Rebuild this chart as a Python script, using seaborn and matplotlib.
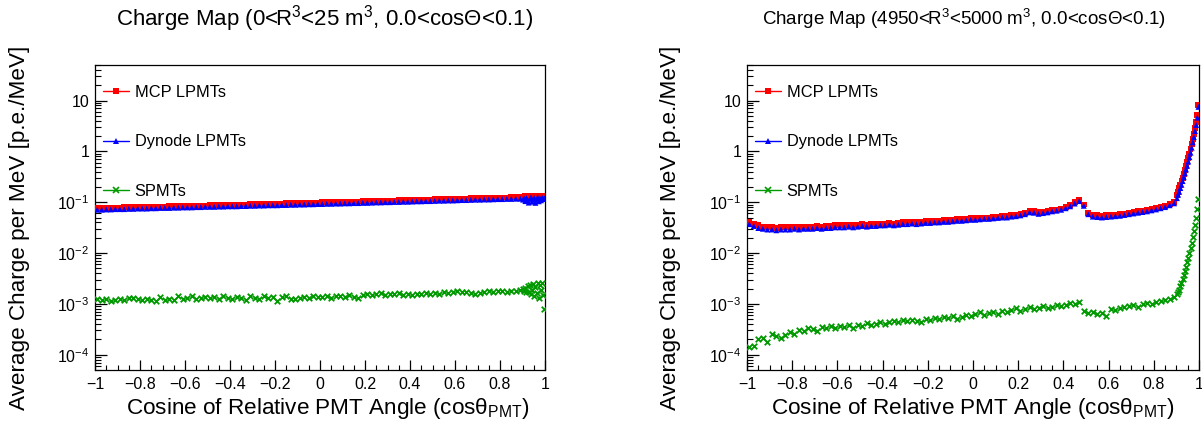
import numpy as np
import pandas as pd
import matplotlib
matplotlib.use("Agg")
import matplotlib.pyplot as plt
import seaborn as sns
from matplotlib.lines import Line2D
from matplotlib.ticker import MultipleLocator, FixedLocator, FuncFormatter, NullFormatter

sns.set_style("ticks")
plt.rcParams['font.family'] = ['Liberation Sans', 'DejaVu Sans']
plt.rcParams['mathtext.fontset'] = 'custom'
plt.rcParams['mathtext.rm'] = 'Liberation Sans'
plt.rcParams['mathtext.it'] = 'Liberation Sans:italic'
plt.rcParams['mathtext.default'] = 'regular'
for key in ['text.color', 'axes.labelcolor', 'xtick.color', 'ytick.color', 'axes.edgecolor']:
    plt.rcParams[key] = 'black'

# bin centres: 0.02 wide bins up to 0.9, then 0.005 wide bins up to 1
cos_coarse = np.round(np.arange(-0.99, 0.90, 0.02), 4)
cos_fine = np.round(np.arange(0.9025, 1.0, 0.005), 4)
cos_bins = np.concatenate([cos_coarse, cos_fine])

# ---- left panel: 0<R^3<25 m^3 ----
mcp_left = [
    0.076, 0.077, 0.077, 0.078, 0.078, 0.078, 0.079, 0.079, 0.080, 0.080,
    0.080, 0.081, 0.081, 0.082, 0.082, 0.082, 0.083, 0.083, 0.084, 0.084,
    0.085, 0.085, 0.085, 0.086, 0.086, 0.087, 0.087, 0.088, 0.088, 0.088,
    0.089, 0.089, 0.090, 0.090, 0.091, 0.091, 0.092, 0.092, 0.093, 0.093,
    0.094, 0.094, 0.095, 0.095, 0.096, 0.096, 0.097, 0.097, 0.098, 0.098,
    0.099, 0.099, 0.100, 0.100, 0.101, 0.102, 0.102, 0.103, 0.103, 0.104,
    0.104, 0.105, 0.106, 0.106, 0.107, 0.107, 0.108, 0.109, 0.109, 0.110,
    0.110, 0.111, 0.112, 0.112, 0.113, 0.114, 0.114, 0.115, 0.116, 0.116,
    0.117, 0.118, 0.118, 0.119, 0.120, 0.120, 0.121, 0.122, 0.122, 0.123,
    0.124, 0.124, 0.125, 0.126, 0.126,
    0.127, 0.128, 0.130, 0.131, 0.129, 0.133, 0.132, 0.130, 0.134, 0.131,
    0.129, 0.133, 0.132, 0.130, 0.134, 0.131, 0.133, 0.135, 0.132, 0.134]
dynode_left = [
    0.071, 0.071, 0.072, 0.072, 0.073, 0.073, 0.073, 0.074, 0.074, 0.075,
    0.075, 0.075, 0.076, 0.076, 0.077, 0.077, 0.077, 0.078, 0.078, 0.079,
    0.079, 0.079, 0.080, 0.080, 0.081, 0.081, 0.081, 0.082, 0.082, 0.083,
    0.083, 0.083, 0.084, 0.084, 0.085, 0.085, 0.086, 0.086, 0.087, 0.087,
    0.087, 0.088, 0.088, 0.089, 0.089, 0.090, 0.090, 0.091, 0.091, 0.092,
    0.092, 0.093, 0.093, 0.094, 0.094, 0.095, 0.095, 0.096, 0.096, 0.097,
    0.097, 0.098, 0.099, 0.099, 0.100, 0.100, 0.101, 0.101, 0.102, 0.102,
    0.103, 0.104, 0.104, 0.105, 0.105, 0.106, 0.107, 0.107, 0.108, 0.108,
    0.109, 0.110, 0.110, 0.111, 0.112, 0.112, 0.113, 0.113, 0.114, 0.115,
    0.115, 0.116, 0.116, 0.117, 0.117,
    0.112, 0.118, 0.105, 0.121, 0.110, 0.098, 0.116, 0.124, 0.102, 0.113,
    0.120, 0.097, 0.111, 0.125, 0.104, 0.118, 0.109, 0.122, 0.115, 0.119]
# SPMTs, in units of 1e-3
spmt_left_e3 = [
    1.22, 1.18, 1.24, 1.15, 1.21, 1.26, 1.20, 1.29, 1.33, 1.27,
    1.19, 1.23, 1.17, 1.12, 1.35, 1.20, 1.26, 1.18, 1.40, 1.24,
    1.31, 1.45, 1.27, 1.33, 1.38, 1.30, 1.36, 1.22, 1.41, 1.28,
    1.24, 1.37, 1.30, 1.21, 1.40, 1.32, 1.25, 1.43, 1.28, 1.35,
    1.13, 1.39, 1.42, 1.26, 1.24, 1.33, 1.37, 1.29, 1.41, 1.35,
    1.38, 1.46, 1.33, 1.40, 1.44, 1.36, 1.48, 1.39, 1.32, 1.52,
    1.58, 1.49, 1.55, 1.62, 1.47, 1.53, 1.56, 1.60, 1.52, 1.55,
    1.50, 1.57, 1.54, 1.62, 1.59, 1.65, 1.58, 1.70, 1.63, 1.74,
    1.76, 1.72, 1.68, 1.63, 1.58, 1.66, 1.73, 1.81, 1.70, 1.77,
    1.79, 1.74, 1.83, 1.78, 1.86,
    1.95, 1.82, 2.05, 1.68, 2.20, 1.74, 2.35, 1.55, 1.90, 2.48,
    1.40, 2.15, 1.62, 2.55, 1.33, 2.30, 1.85, 2.60, 1.48, 0.80]

# ---- right panel: 4950<R^3<5000 m^3 ----
mcp_right = [
    0.041, 0.038, 0.035, 0.033, 0.032, 0.032, 0.031, 0.032, 0.032, 0.032,
    0.033, 0.032, 0.033, 0.033, 0.033, 0.034, 0.033, 0.034, 0.034, 0.035,
    0.035, 0.035, 0.036, 0.035, 0.036, 0.037, 0.036, 0.037, 0.037, 0.038,
    0.038, 0.039, 0.038, 0.039, 0.040, 0.040, 0.041, 0.040, 0.041, 0.042,
    0.042, 0.043, 0.043, 0.044, 0.044, 0.045, 0.046, 0.046, 0.047, 0.048,
    0.048, 0.049, 0.050, 0.050, 0.051, 0.052, 0.053, 0.053, 0.055, 0.056,
    0.058, 0.062, 0.068, 0.066, 0.063, 0.065, 0.067, 0.070, 0.072, 0.075,
    0.080, 0.088, 0.100, 0.112, 0.090, 0.062, 0.056, 0.055, 0.054, 0.055,
    0.056, 0.057, 0.058, 0.060, 0.062, 0.064, 0.066, 0.068, 0.070, 0.073,
    0.076, 0.080, 0.085, 0.092, 0.100,
    0.14, 0.16, 0.19, 0.22, 0.26, 0.30, 0.36, 0.43, 0.51, 0.61,
    0.74, 0.90, 1.10, 1.40, 1.75, 2.2, 2.9, 3.8, 5.2, 8.2]
dynode_right = [
    0.037, 0.034, 0.031, 0.030, 0.029, 0.029, 0.028, 0.029, 0.029, 0.029,
    0.030, 0.029, 0.030, 0.030, 0.030, 0.031, 0.030, 0.031, 0.031, 0.032,
    0.032, 0.032, 0.033, 0.032, 0.033, 0.034, 0.033, 0.034, 0.034, 0.035,
    0.035, 0.036, 0.035, 0.036, 0.037, 0.037, 0.038, 0.037, 0.038, 0.039,
    0.039, 0.040, 0.040, 0.041, 0.041, 0.042, 0.043, 0.043, 0.044, 0.045,
    0.045, 0.046, 0.047, 0.047, 0.048, 0.049, 0.050, 0.050, 0.052, 0.053,
    0.055, 0.058, 0.063, 0.062, 0.059, 0.061, 0.063, 0.066, 0.068, 0.071,
    0.076, 0.083, 0.094, 0.105, 0.085, 0.058, 0.052, 0.051, 0.050, 0.051,
    0.052, 0.053, 0.054, 0.056, 0.058, 0.060, 0.062, 0.064, 0.066, 0.069,
    0.072, 0.076, 0.080, 0.087, 0.095,
    0.12, 0.14, 0.16, 0.19, 0.22, 0.26, 0.31, 0.37, 0.44, 0.52,
    0.63, 0.77, 0.94, 1.18, 1.50, 1.90, 2.5, 3.3, 4.6, 7.5]
# SPMTs, in units of 1e-4
spmt_right_e4 = [
    1.4, 1.5, 2.0, 2.1, 1.8, 2.6, 2.3, 2.1, 2.4, 2.8,
    2.6, 3.1, 2.9, 3.4, 3.2, 2.9, 3.5, 3.3, 3.6, 3.4,
    3.7, 3.5, 3.8, 3.4, 3.9, 3.6, 4.2, 3.8, 4.1, 4.3,
    4.0, 4.4, 4.6, 4.3, 4.8, 4.5, 4.9, 4.7, 4.4, 5.1,
    4.8, 5.3, 5.0, 5.5, 5.2, 5.7, 5.1, 5.6, 6.0, 5.8,
    6.3, 6.8, 6.1, 6.6, 7.0, 6.4, 7.3, 6.8, 7.6, 8.3,
    7.4, 8.0, 8.6, 7.8, 8.4, 9.1, 8.2, 8.8, 9.3, 8.9,
    9.6, 10.2, 9.8, 11.0, 7.2, 6.5, 6.8, 6.3, 6.7, 5.8,
    8.0, 7.6, 8.3, 8.7, 9.0, 9.6, 8.8, 10.1, 10.3, 10.0,
    10.8, 11.2, 11.9, 12.6, 13.8,
    15.5, 17, 19, 22, 26, 31, 37, 45, 54, 66,
    81, 100, 125, 160, 205, 270, 360, 500, 720, 1150]

titles = ["Charge Map (0<R$^{3}$<25 m$^{3}$, 0.0<cosΘ<0.1)",
          "Charge Map (4950<R$^{3}$<5000 m$^{3}$, 0.0<cosΘ<0.1)"]
series_names = ["MCP LPMTs", "Dynode LPMTs", "SPMTs"]
colors = ["#ff0000", "#0000ff", "#009900"]
markers = ["s", "^", "x"]

panels = [
    (mcp_left, dynode_left, np.array(spmt_left_e3) * 1e-3),
    (mcp_right, dynode_right, np.array(spmt_right_e4) * 1e-4),
]

fig = plt.figure(figsize=(12.02, 4.28), dpi=100)
W, H = 1202, 428
axes_px = [(95, 545), (747, 1199)]
title_size = [16, 13.5]
title_x = [325, 964]
xlabel_end = [530, 1175]

ytick_labels = {10.0: "10", 1.0: "1", 0.1: "$10^{-1}$", 0.01: "$10^{-2}$",
                0.001: "$10^{-3}$", 0.0001: "$10^{-4}$"}

for i, (x0, x1) in enumerate(axes_px):
    ax = fig.add_axes([x0 / W, (H - 370) / H, (x1 - x0) / W, 305 / H])
    df = pd.DataFrame({"cos": cos_bins, "MCP LPMTs": panels[i][0],
                       "Dynode LPMTs": panels[i][1], "SPMTs": panels[i][2]})
    for name, c, m in zip(series_names, colors, markers):
        if m == "x":
            sns.scatterplot(data=df, x="cos", y=name, ax=ax, marker=m, color=c,
                            s=16, linewidth=1.3, zorder=3)
        else:
            sns.scatterplot(data=df, x="cos", y=name, ax=ax, marker=m, color=c,
                            s=18, edgecolor="none", linewidth=0, zorder=3)
    ax.set_yscale("log")
    ax.set_xlim(-1, 1)
    ax.set_ylim(5e-5, 50)

    ax.xaxis.set_major_locator(MultipleLocator(0.2))
    ax.xaxis.set_minor_locator(MultipleLocator(0.05))
    ax.xaxis.set_major_formatter(FuncFormatter(
        lambda v, p: "0" if abs(v) < 1e-9 else ("%g" % round(v, 1)).replace("-", "\u2212")))
    ax.yaxis.set_major_locator(FixedLocator(list(ytick_labels.keys())))
    ax.yaxis.set_major_formatter(FuncFormatter(
        lambda v, p: ytick_labels.get(round(v, 6), "")))
    minors = [k * 10.0 ** e for e in range(-5, 2) for k in range(2, 10)]
    ax.yaxis.set_minor_locator(FixedLocator(minors))
    ax.yaxis.set_minor_formatter(NullFormatter())
    ax.tick_params(axis="x", which="major", direction="in", length=7, width=0.9,
                   labelsize=11.5, pad=5, top=False)
    ax.tick_params(axis="x", which="minor", direction="in", length=3.5, width=0.8, top=False)
    ax.tick_params(axis="y", which="major", direction="in", length=8.5, width=0.9,
                   labelsize=11.5, pad=4, right=False)
    ax.tick_params(axis="y", which="minor", direction="in", length=4.5, width=0.8, right=False)
    for sp in ax.spines.values():
        sp.set_visible(True)
        sp.set_linewidth(0.9)
        sp.set_color("black")

    ax.set_xlabel("Cosine of Relative PMT Angle (cos$θ_{PMT}$)", fontsize=16.2,
                  ha="right")
    ax.xaxis.set_label_coords((xlabel_end[i] - x0) / (x1 - x0), -0.085)
    ax.set_ylabel("Average Charge per MeV [p.e./MeV]", fontsize=16.2)
    ax.yaxis.set_label_coords(-0.145, 0.465)

    handles = [Line2D([0], [0], color=c, marker=m, markersize=4, lw=1,
                      markeredgewidth=1.2 if m == "x" else 0)
               for c, m in zip(colors, markers)]
    ax.legend(handles, series_names, loc="upper left", bbox_to_anchor=(-0.005, 0.968),
              frameon=False, fontsize=11.8, labelspacing=2.12, handlelength=1.6,
              handletextpad=0.35, borderaxespad=0.2)

    fig.text(title_x[i] / W, 1 - 19 / H, titles[i], ha="center", va="center",
             fontsize=title_size[i])

fig.savefig("out.png", dpi=100)
